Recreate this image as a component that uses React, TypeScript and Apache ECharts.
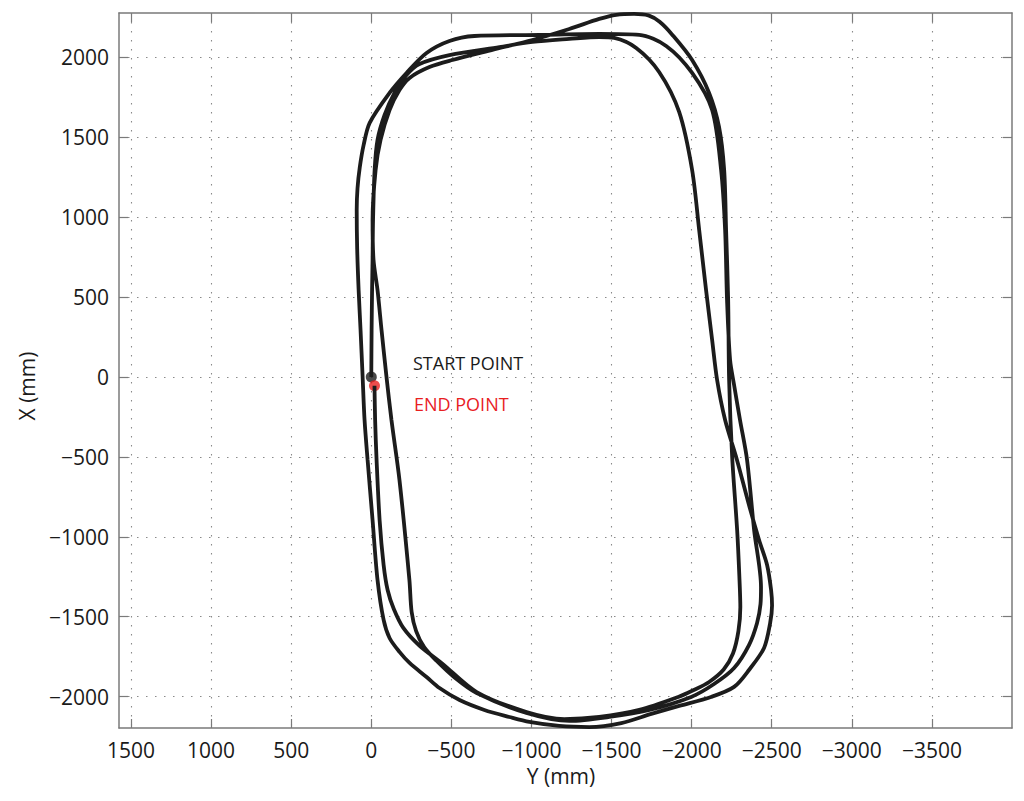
import React, { useEffect, useRef } from "react";
import * as echarts from "echarts";

// Y (mm) horizontal value, X (mm) vertical value
const loop1: [number, number][] = [
  [0, 0], [-2, 294], [-5, 544], [-8, 732], [-11, 982], [-21, 1295], [-39, 1483], [-83, 1639],
  [-145, 1777], [-220, 1889], [-301, 1958], [-488, 2014], [-800, 2064], [-1006, 2096],
  [-1236, 2115], [-1423, 2127], [-1517, 2121], [-1654, 2058], [-1797, 1908], [-1922, 1658],
  [-2003, 1295], [-2047, 920], [-2090, 544], [-2128, 231], [-2159, -19], [-2209, -269],
  [-2283, -519], [-2358, -801], [-2421, -1020], [-2471, -1176], [-2496, -1333], [-2502, -1430],
  [-2490, -1540], [-2452, -1695], [-2358, -1833], [-2265, -1939], [-2121, -2002], [-1922, -2058],
  [-1748, -2108], [-1561, -2165], [-1361, -2190], [-1174, -2183], [-987, -2158], [-862, -2127],
  [-706, -2083], [-551, -2021], [-426, -1946], [-345, -1877], [-239, -1789], [-176, -1720],
  [-114, -1633], [-77, -1520], [-39, -1270], [-8, -895], [23, -519], [42, -269], [54, 0],
  [67, 294], [79, 544], [88, 800], [91, 1045], [86, 1180], [72, 1310], [48, 1450], [10, 1590],
  [-114, 1777], [-220, 1902], [-345, 2027], [-488, 2102], [-644, 2133], [-1049, 2140],
  [-1423, 2146],
];
const loop2: [number, number][] = [
  [-1673, 2140], [-1841, 2071], [-2003, 1902], [-2128, 1670], [-2184, 1295], [-2209, 920],
  [-2221, 482], [-2240, 106], [-2265, -50], [-2302, -269], [-2346, -519], [-2390, -957],
  [-2433, -1314], [-2430, -1420], [-2408, -1540], [-2358, -1677], [-2265, -1821], [-2140, -1921],
  [-1997, -2002], [-1736, -2083], [-1486, -2127], [-1237, -2152], [-969, -2102], [-658, -1977],
  [-520, -1880], [-407, -1775], [-330, -1690], [-280, -1590], [-252, -1470], [-238, -1270],
  [-176, -644], [-126, -269], [-95, 0], [-64, 294], [-39, 544], [-14, 732], [-8, 982],
  [-27, 1295], [-58, 1483], [-114, 1670], [-176, 1795], [-239, 1871], [-363, 1939], [-507, 1983],
  [-756, 2046], [-1006, 2108], [-1236, 2177], [-1423, 2240], [-1529, 2266], [-1641, 2272],
  [-1730, 2262], [-1800, 2222],
];
const loop3: [number, number][] = [
  [-1880, 2140], [-2003, 1983], [-2109, 1777], [-2171, 1564], [-2203, 1295], [-2215, 920],
  [-2228, 482], [-2234, -19], [-2253, -500], [-2284, -957], [-2298, -1250], [-2304, -1440],
  [-2292, -1590], [-2258, -1730], [-2200, -1830], [-2109, -1908], [-2010, -1960], [-1916, -2002],
  [-1673, -2083], [-1423, -2127], [-1205, -2140], [-969, -2096], [-658, -1971], [-440, -1790],
  [-300, -1680], [-200, -1570], [-140, -1450], [-102, -1333], [-77, -1176], [-52, -895],
  [-33, -519], [-24, -269], [-20, -55],
];
const startPoint: [number, number][] = [[0, 0]];
const endPoint: [number, number][] = [[-20, -55]];
const xTicks = [1500, 1000, 500, 0, -500, -1000, -1500, -2000, -2500, -3000, -3500];
const yTicks = [-2000, -1500, -1000, -500, 0, 500, 1000, 1500, 2000];
const xRange = { min: -4000, max: 1575 };
const yRange = { min: -2196, max: 2277 };

const FONT = '"Open Sans", "Noto Sans", sans-serif';

export default function App() {
  const ref = useRef<HTMLDivElement>(null);
  useEffect(() => {
    document.body.style.margin = "0";
    const chart = echarts.init(ref.current!, undefined, { renderer: "svg" });
    const axisColor = "#7a7a7a";
    const fmt = (v: number) => String(v).replace("-", "\u2212");
    const gridLine = { show: true, lineStyle: { type: [1.5, 7.5] as any, color: "#8a8a8a", width: 1.1 } };
    const lbl = { fontSize: 21, color: "#1a1a1a", fontFamily: FONT, formatter: fmt };
    const path = [...loop1, ...loop2, ...loop3];
    const axisLine = { show: true, onZero: false, lineStyle: { color: axisColor, width: 1.5 } };
    const tick = (vals: number[]) => ({ show: true, inside: true, length: 9, customValues: vals, lineStyle: { color: axisColor, width: 1.2 } });
    chart.setOption({
      animation: false,
      backgroundColor: "#ffffff",
      grid: { left: 119, right: 12, top: 13, bottom: 73, containLabel: false },
      xAxis: [
        {
          type: "value", ...xRange, inverse: true, position: "bottom",
          axisLine, axisTick: tick(xTicks),
          axisLabel: { ...lbl, margin: 11, customValues: xTicks },
          splitLine: gridLine,
        },
        {
          type: "value", ...xRange, inverse: true, position: "top",
          axisLine, axisTick: tick(xTicks),
          axisLabel: { show: false }, splitLine: { show: false },
        },
      ],
      yAxis: [
        {
          type: "value", ...yRange, position: "left",
          axisLine, axisTick: tick(yTicks),
          axisLabel: { ...lbl, margin: 10, customValues: yTicks },
          splitLine: gridLine,
        },
        {
          type: "value", ...yRange, position: "right",
          axisLine, axisTick: tick(yTicks),
          axisLabel: { show: false }, splitLine: { show: false },
        },
      ],
      series: [
        {
          type: "line", data: path, xAxisIndex: 0, yAxisIndex: 0, showSymbol: false,
          smooth: 0.3, lineStyle: { color: "#1c1c1c", width: 3.8 }, clip: true,
        },
        { type: "scatter", data: startPoint, symbolSize: 11, itemStyle: { color: "#1c1c1c" } },
        { type: "scatter", data: endPoint, symbolSize: 11, itemStyle: { color: "#e8201f" } },
      ],
      graphic: [
        { type: "text", x: 413, y: 363, style: { text: "START POINT", fill: "#1a1a1a", font: `18px ${FONT}`, align: "left", verticalAlign: "middle" } },
        { type: "text", x: 414, y: 404, style: { text: "END POINT", fill: "#e8201f", font: `18px ${FONT}`, align: "left", verticalAlign: "middle" } },
        { type: "text", x: 561, y: 776, style: { text: "Y (mm)", fill: "#1a1a1a", font: `21px ${FONT}`, align: "center", verticalAlign: "middle" } },
        { type: "text", x: 27, y: 386, rotation: Math.PI / 2, style: { text: "X (mm)", fill: "#1a1a1a", font: `21px ${FONT}`, align: "center", verticalAlign: "middle" } },
      ],
    });
    return () => chart.dispose();
  }, []);
  return <div ref={ref} style={{ position: "fixed", left: 0, top: 0, width: 1024, height: 801 }} />;
}
